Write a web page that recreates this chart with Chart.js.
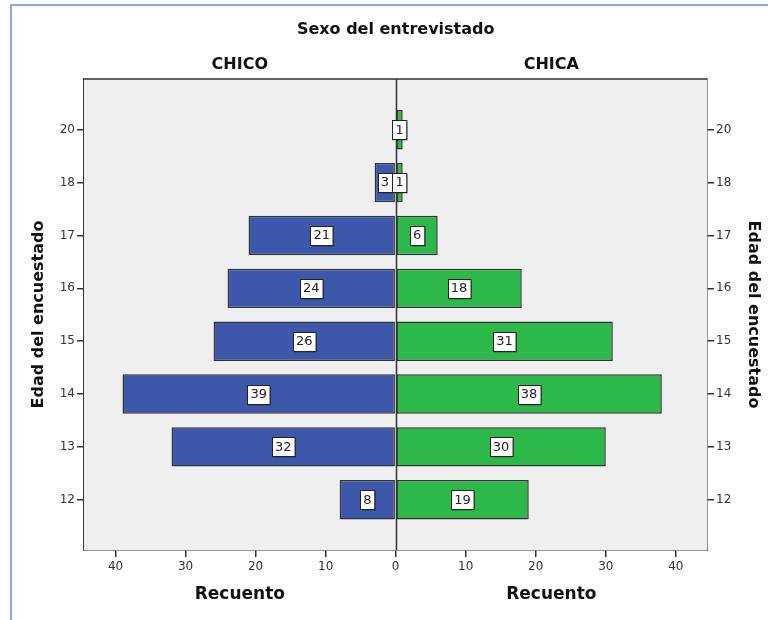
<!DOCTYPE html>
<html>
<head>
<meta charset="utf-8">
<script src="https://cdn.jsdelivr.net/npm/chart.js@4.4.1/dist/chart.umd.min.js"></script>
<style>
  html, body { margin:0; padding:0; background:#fff; }
  #wrap { position:relative; width:768px; height:620px; overflow:hidden; }
  #frame { position:absolute; left:10px; top:4px; width:800px; height:700px;
           border-left:2px solid #86acdc; border-top:2px solid #86acdc; }
  canvas { position:absolute; left:0; top:0; }
</style>
</head>
<body>
<div id="wrap">
  <div id="frame"></div>
  <canvas id="c" width="768" height="620"></canvas>
</div>
<script>
// ---- data ----
const ages = ['12', '13', '14', '15', '16', '17', '18', '20'];
const chico = [8, 32, 39, 26, 24, 21, 3, 0];
const chica = [19, 30, 38, 31, 18, 6, 1, 1];
const xTickValues = [-40, -30, -20, -10, 0, 10, 20, 30, 40];
const mainTitle = 'Sexo del entrevistado';
const panelTitles = ['CHICO', 'CHICA'];
const xTitle = 'Recuento';
const yTitle = 'Edad del encuestado';

const FONT = "'DejaVu Sans', sans-serif";
const BLUE = '#3d57ab';
const GREEN = '#2db84a';
const EDGE = '#333333';

const decor = {
  id: 'decor',
  beforeDatasetsDraw(chart) {
    const {ctx, chartArea: a} = chart;
    ctx.save();
    ctx.fillStyle = '#efefef';
    ctx.fillRect(a.left, a.top, a.right - a.left, a.bottom - a.top);
    ctx.restore();
  },
  afterDatasetsDraw(chart) {
    const {ctx, chartArea: a} = chart;
    const xs = chart.scales.x;
    ctx.save();
    ctx.strokeStyle = EDGE;
    ctx.lineWidth = 1.5;
    ctx.beginPath();
    ctx.moveTo(a.left, a.top); ctx.lineTo(a.right, a.top);
    const cx = Math.round(xs.getPixelForValue(0)) + 0.5;
    ctx.moveTo(cx, a.top); ctx.lineTo(cx, a.bottom);
    ctx.stroke();

    ctx.font = '13px ' + FONT;
    ctx.textAlign = 'center';
    ctx.textBaseline = 'middle';
    chart.data.datasets.forEach((ds, di) => {
      const meta = chart.getDatasetMeta(di);
      const vals = di === 0 ? chico : chica;
      meta.data.forEach((el, i) => {
        const v = vals[i];
        if (!v) return;
        const mx = (el.x + el.base) / 2;
        const my = el.y;
        const txt = String(v);
        const w = ctx.measureText(txt).width + 6;
        const h = 19;
        const bx = Math.round(mx - w / 2) + 0.5, by = Math.round(my - h / 2) + 0.5;
        ctx.fillStyle = 'rgba(0,0,0,0.35)';
        ctx.fillRect(bx + 1, by + 1, w, h);
        ctx.fillStyle = '#ffffff';
        ctx.fillRect(bx, by, w, h);
        ctx.strokeStyle = '#222';
        ctx.lineWidth = 1;
        ctx.strokeRect(bx, by, w, h);
        ctx.fillStyle = '#222';
        ctx.fillText(txt, mx, my + 0.5);
      });
    });
    ctx.restore();
  },
  afterDraw(chart) {
    const {ctx, chartArea: a} = chart;
    const xs = chart.scales.x;
    const c0 = xs.getPixelForValue(0);
    const lc = (a.left + c0) / 2, rc = (c0 + a.right) / 2;
    ctx.save();
    ctx.fillStyle = '#111';
    ctx.textAlign = 'center';
    ctx.textBaseline = 'middle';
    ctx.font = 'bold 16px ' + FONT;
    ctx.fillText(mainTitle, c0, 30);
    ctx.fillText(panelTitles[0], lc, 65);
    ctx.fillText(panelTitles[1], rc, 65);
    ctx.font = 'bold 17px ' + FONT;
    ctx.fillText(xTitle, lc, 595);
    ctx.fillText(xTitle, rc, 595);
    ctx.restore();
  }
};

const yTicks = (scale) => { scale.ticks = ages.map((a, i) => ({value: i})); };
const yScaleBase = (pos, titlePad, width) => ({
  type: 'linear',
  position: pos,
  min: -0.95,
  max: 7.96,
  offset: false,
  stacked: true,
  afterBuildTicks: yTicks,
  afterFit: (s) => { s.width = width; },
  grid: { offset: false, drawOnChartArea: false, drawTicks: true, tickLength: 7, color: EDGE, lineWidth: 1.5 },
  border: { display: true, color: EDGE, width: 1.5 },
  ticks: {
    color: '#333', padding: 2,
    font: { family: FONT, size: 12 },
    callback: (v) => ages[v] !== undefined ? ages[v] : ''
  },
  title: {
    display: true, text: yTitle, color: '#111',
    font: { family: FONT, size: 16, weight: 'bold' },
    padding: { top: titlePad, bottom: 0 }
  }
});

new Chart(document.getElementById('c'), {
  type: 'bar',
  data: {
    datasets: [
      {
        label: panelTitles[0],
        data: chico.map((v, i) => ({ x: v ? -v : null, y: i })),
        backgroundColor: BLUE, borderColor: EDGE, borderWidth: 1.5, borderSkipped: false,
        barPercentage: 0.745, categoryPercentage: 1
      },
      {
        label: panelTitles[1],
        data: chica.map((v, i) => ({ x: v ? v : null, y: i })),
        backgroundColor: GREEN, borderColor: EDGE, borderWidth: 1.5, borderSkipped: false,
        barPercentage: 0.745, categoryPercentage: 1
      }
    ]
  },
  options: {
    indexAxis: 'y',
    responsive: false,
    animation: false,
    layout: { padding: { top: 79, left: 0, right: 0, bottom: 0 } },
    plugins: { legend: { display: false }, tooltip: { enabled: false }, title: { display: false } },
    scales: {
      x: {
        type: 'linear',
        min: -44.5, max: 44.45,
        stacked: true,
        afterBuildTicks: (s) => { s.ticks = xTickValues.map(v => ({ value: v })); },
        afterFit: (s) => { s.height = 70; },
        grid: { drawOnChartArea: false, drawTicks: true, tickLength: 7, color: EDGE, lineWidth: 1.5 },
        border: { display: true, color: EDGE, width: 1.5 },
        ticks: {
          color: '#333', padding: 3, maxRotation: 0,
          font: { family: FONT, size: 12 },
          callback: (v) => String(Math.abs(v))
        }
      },
      y: yScaleBase('left', 29, 84),
      y2: yScaleBase('right', 5, 61)
    }
  },
  plugins: [decor]
});
</script>
</body>
</html>
